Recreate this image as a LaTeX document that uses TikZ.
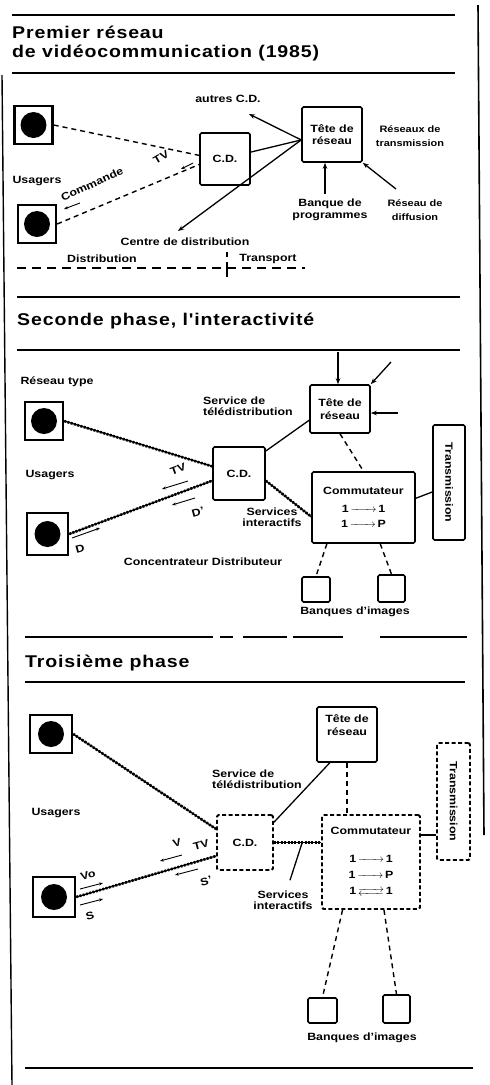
\documentclass[tikz,border=0pt]{standalone}
\usepackage{fontspec}
\usepackage{amsmath}
\setmainfont{Liberation Sans}[FakeStretch=1.18]
\newfontfamily\titlefont{Liberation Sans}[FakeStretch=1.15,LetterSpace=5]
\usetikzlibrary{calc,arrows.meta}
\newcommand{\rarr}{\makebox[26pt]{\rightarrowfill}}
\newcommand{\rlarr}{\rlap{\raisebox{2pt}{\makebox[26pt]{\rightarrowfill}}}\raisebox{-2pt}{\makebox[26pt]{\leftarrowfill}}}
\tikzset{
 lab/.style={font=\bfseries\fontsize{10.5}{11.5}\selectfont, align=center, inner sep=0pt},
 labs/.style={font=\bfseries\fontsize{9.3}{14}\selectfont, align=center, inner sep=0pt},
 ttl/.style={font=\titlefont\bfseries\fontsize{17}{19}\selectfont, anchor=west, inner sep=0pt},
 rule/.style={line width=1.4pt},
 usr/.style={draw, line width=2.4pt, minimum width=38pt, minimum height=38pt, inner sep=0pt,
   path picture={\fill (path picture bounding box.center) circle (13pt);}},
 box/.style={draw, line width=1.6pt, rounded corners=1.5pt, align=center, inner sep=1pt,
   font=\bfseries\fontsize{10.5}{12.5}\selectfont},
 dbox/.style={box, dash pattern=on 4pt off 2.5pt, line width=1.8pt},
 ln/.style={line width=1.3pt},
 arr/.style={ln, -{Stealth[length=6pt,width=4.5pt]}},
 dsh/.style={line width=1.4pt, dash pattern=on 5pt off 4pt},
 rope/.style={line width=2.6pt, dash pattern=on 2pt off 1.4pt, preaction={draw, solid, line width=1.2pt}},
 sarr/.style={line width=0.9pt, -{Stealth[length=4pt,width=3pt]}},
}
\begin{document}
\begin{tikzpicture}[x=1pt,y=-1pt]
\useasboundingbox (0,0) rectangle (490,1085);
% frame
\draw[line width=1.4pt] (2,75) -- (12,1085);
\draw[line width=1.6pt] (478,5) -- (484,835);

% ===== Section 1
\draw[rule] (12,15) -- (455,15);
\node[ttl] (t1a) at (12,32) {Premier réseau};
\node[ttl] (t1b) at (12,53) {de vidéocommunication (1985)};
\draw[rule] (12,73) -- (455,73);
\node[usr] (u1) at (33.5,125) {};
\node[usr] (u2) at (37,224) {};
\node[lab] (us1) at (37,181) {Usagers};
\node[box, minimum width=50, minimum height=52] (cd1) at (225,159) {C.D.};
\node[box, minimum width=60, minimum height=55] (tr1) at (332,134.5) {Tête de\\réseau};
\node[labs] (rt1) at (410,136) {Réseaux de\\transmission};
\node[lab] (ac1) at (228,99) {autres C.D.};
\coordinate (acp) at (249,114);
\draw[arr] (tr1.190) -- (acp);
\draw[ln] (cd1.15) -- (tr1.190);
\coordinate (cdp) at (178,231);
\draw[arr] (tr1.190) -- (cdp);
\node[lab] (cdl) at (185,242) {Centre de distribution};
\coordinate (bp) at (325,194);
\draw[arr] (bp) -- (bp |- tr1.south);
\node[lab] (bpl) at (330,210) {Banque de\\programmes};
\coordinate (rdp) at (396,189);
\draw[arr] (rdp) -- (tr1.south east);
\node[labs] (rdl) at (415,210) {Réseau de\\diffusion};
\draw[dsh] (u1.east) -- (cd1.172);
\draw[dsh] (u2.east) -- (cd1.192);
\node[lab, rotate=25] (cmd) at (92,184) {Commande};
\node[lab, rotate=30] (tv1) at (161,157) {TV};
\coordinate (c1a) at (80,203); \coordinate (c1b) at (64,209);
\draw[sarr] (c1a) -- (c1b);
\coordinate (t1p) at (193,163); \coordinate (t1q) at (181,169);
\draw[sarr] (t1p) -- (t1q);
\node[lab] (dl) at (102,259) {Distribution};
\node[lab] (tl) at (268,259) {Transport};
\draw[line width=1.4pt, dash pattern=on 9pt off 6pt] (17,268) -- (305,268);
\draw[line width=1.4pt] (227,252) -- (227,257);
\draw[line width=1.4pt] (227,262) -- (227,277);
\draw[rule] (17,297) -- (460,297);

% ===== Section 2
\node[ttl] (t2) at (17,321) {Seconde phase, l'interactivité};
\draw[rule] (17,350) -- (460,350);
\node[lab] (rty) at (57,382) {Réseau type};
\node[usr] (u3) at (44,421) {};
\node[usr, minimum width=41, minimum height=42] (u4) at (47.5,534) {};
\node[lab] (us2) at (50,475) {Usagers};
\node[box, minimum width=52, minimum height=53] (cd2) at (239,473.5) {C.D.};
\node[box, minimum width=60, minimum height=48] (tr2) at (340,409) {Tête de\\réseau};
\coordinate (a21) at (338,352);
\draw[arr] (a21) -- (a21 |- tr2.north);
\coordinate (a22) at (391,362);
\draw[arr] (a22) -- (tr2.north east);
\coordinate (a23) at (398,413);
\draw[arr] (a23) -- (a23 -| tr2.east);
\node[lab, anchor=west, align=left] (st2) at (203,406) {Service de\\télédistribution};
\draw[ln] (cd2.40) -- (tr2.200);
\node[box, minimum width=103, minimum height=71, font=\bfseries\fontsize{10.5}{15}\selectfont] (com2) at (363.5,507.5)
  {Commutateur\\[3pt] 1\,\rarr\,1\\ 1\,\rarr\,P};
\draw[dsh] (tr2.south) -- (com2.north);
\node[box, minimum width=32, minimum height=115] (trn2) at (449,482.5) {};
\node[lab, rotate=-90] (trl2) at (trn2.center) {Transmission};
\draw[ln] (com2.10) -- ($(trn2.west)+(0,9.5)$);
\draw[rope] (cd2.-15) -- (com2.190);
\node[lab] (si2) at (272,517) {Services\\interactifs};
\draw[rope] (u3.east) -- (cd2.165);
\draw[rope] (u4.east) -- (cd2.195);
\node[lab, rotate=20] (tv2) at (178,469) {TV};
\coordinate (v2a) at (188,481); \coordinate (v2b) at (162,489);
\draw[sarr] (v2a) -- (v2b);
\coordinate (d2a) at (195,498); \coordinate (d2b) at (172,505);
\draw[sarr] (d2a) -- (d2b);
\node[lab, rotate=15] (dp2) at (198,512) {D'};
\coordinate (d3a) at (72,538); \coordinate (d3b) at (100,528);
\draw[sarr] (d3a) -- (d3b);
\node[lab, rotate=15] (dd2) at (80,549) {D};
\node[lab] (cdl2) at (203,562) {Concentrateur Distributeur};
\node[box, minimum width=28, minimum height=25] (b21) at (316,589.5) {};
\node[box, minimum width=27, minimum height=27] (b22) at (391.5,588.5) {};
\draw[dsh] ($(com2.south west)!0.15!(com2.south east)$) -- (b21.north);
\draw[dsh] ($(com2.south west)!0.66!(com2.south east)$) -- (b22.north);
\node[lab] (bi2) at (355,612) {Banques d'images};
\draw[rule, dash pattern=on 188pt off 7pt on 13pt off 10pt on 44pt off 6pt on 50pt off 37pt on 90pt] (25,637) -- (467,637);

% ===== Section 3
\node[ttl] (t3) at (25,663) {Troisième phase};
\draw[rule] (25,682) -- (465,682);
\node[usr, minimum width=42] (u5) at (51,734) {};
\node[usr, minimum width=42, minimum height=40] (u6) at (54,897) {};
\node[lab] (us3) at (56,813) {Usagers};
\node[box, minimum width=60, minimum height=55] (tr3) at (347,734.5) {};
\node[lab, font=\bfseries\fontsize{10.5}{13}\selectfont] (trl3) at (347,725) {Tête de\\réseau};
\node[lab, anchor=west, align=left] (st3) at (212,779) {Service de\\télédistribution};
\node[dbox, minimum width=56, minimum height=55] (cd3) at (245,842.5) {C.D.};
\node[dbox, minimum width=98, minimum height=94, font=\bfseries\fontsize{10.5}{16}\selectfont] (com3) at (371,862)
  {Commutateur\\[12pt] 1\,\rarr\,1\\ 1\,\rarr\,P\\ 1\,\rlarr\,1};
\node[dbox, minimum width=33, minimum height=117] (trn3) at (453.5,801.5) {};
\node[lab, rotate=-90] (trl3b) at (trn3.center) {Transmission};
\draw[ln] (cd3.35) -- ($(tr3.south west)!0.22!(tr3.south east)$);
\draw[dsh] (tr3.south) -- (tr3.south |- com3.north);
\coordinate (c3a) at ($(com3.east)+(0,-27)$);
\draw[ln] (c3a) -- (c3a -| trn3.west);
\draw[rope] (cd3.east) -- (cd3.east -| com3.west);
\node[lab] (si3) at (283,900) {Services\\interactifs};
\coordinate (si3p) at ($(cd3.east)!0.6!(cd3.east -| com3.west)$);
\draw[ln] ([shift={(7,-10)}]si3.north) -- (si3p);
\draw[rope] (u5.east) -- (cd3.155);
\draw[rope] (u6.east) -- (cd3.205);
\node[lab, rotate=15] (v3) at (177,843) {V};
\node[lab, rotate=15] (tv3) at (201,845) {TV};
\coordinate (v3a) at (182,855); \coordinate (v3b) at (160,861);
\draw[sarr] (v3a) -- (v3b);
\coordinate (s3a) at (198,869); \coordinate (s3b) at (175,875);
\draw[sarr] (s3a) -- (s3b);
\node[lab, rotate=15] (sp3) at (206,881) {S'};
\node[lab, rotate=15] (vo3) at (88,875) {Vo};
\coordinate (o3a) at (80,889); \coordinate (o3b) at (103,883);
\draw[sarr] (o3a) -- (o3b);
\coordinate (s4a) at (80,905); \coordinate (s4b) at (103,899);
\draw[sarr] (s4a) -- (s4b);
\node[lab, rotate=15] (ss3) at (90,916) {S};
\node[box, minimum width=29, minimum height=25] (b31) at (322.5,1010.5) {};
\node[box, minimum width=27, minimum height=28] (b32) at (396.5,1009) {};
\draw[dsh] ($(com3.south west)!0.215!(com3.south east)$) -- (b31.north);
\draw[dsh] ($(com3.south west)!0.63!(com3.south east)$) -- (b32.north);
\node[lab] (bi3) at (362,1038) {Banques d'images};
\draw[rule] (25,1068) -- (473,1068);
\end{tikzpicture}
\end{document}
